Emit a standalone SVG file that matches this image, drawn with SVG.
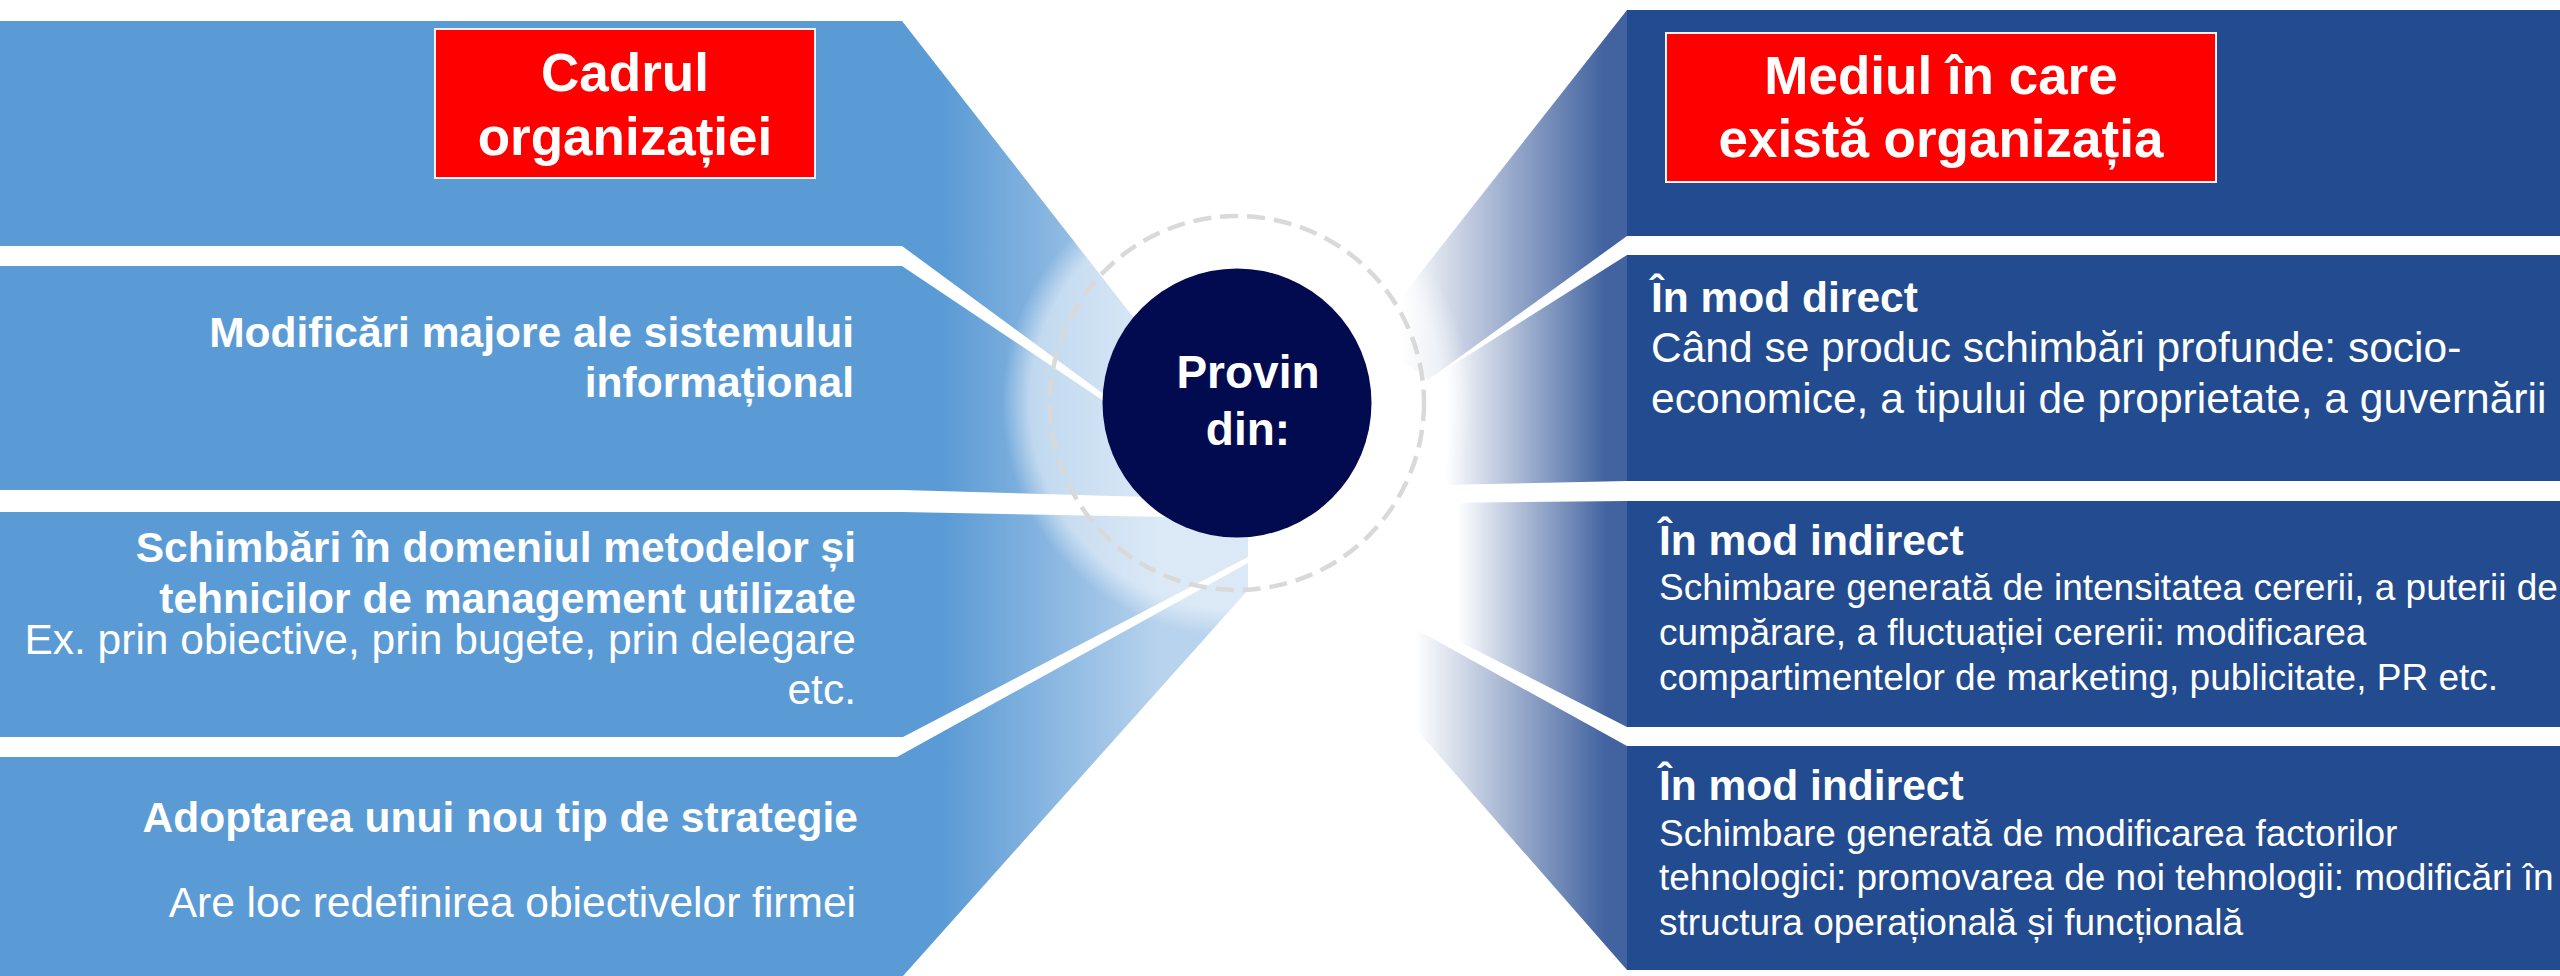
<svg xmlns="http://www.w3.org/2000/svg" width="2560" height="976" viewBox="0 0 2560 976">
<defs>
<style>
.t{font-family:"Liberation Sans",Arial,sans-serif;fill:#fff}
.b{font-weight:bold}
.s43{font-size:42.5px}
.s37{font-size:37px}
.end{text-anchor:end}
.ttl{font-family:"Liberation Sans",Arial,sans-serif;fill:#fff;font-size:53px;font-weight:bold;text-anchor:middle}
.rb{fill:#234B8F}
.red{fill:#FF0000;stroke:#F2F2F2;stroke-width:2}
</style>
<linearGradient id="gl" gradientUnits="userSpaceOnUse" x1="945" y1="0" x2="1160" y2="0">
<stop offset="0" stop-color="#5B9BD5"/><stop offset="1" stop-color="#B8D3ED"/>
</linearGradient>
<linearGradient id="gr1" gradientUnits="userSpaceOnUse" x1="1627" y1="0" x2="1400" y2="0">
<stop offset="0.1" stop-color="#4263A0"/><stop offset="1" stop-color="#4263A0" stop-opacity="0"/>
</linearGradient>
<linearGradient id="gr2" gradientUnits="userSpaceOnUse" x1="1627" y1="0" x2="1445" y2="0">
<stop offset="0.12" stop-color="#4263A0"/><stop offset="1" stop-color="#4263A0" stop-opacity="0"/>
</linearGradient>
<linearGradient id="gr3" gradientUnits="userSpaceOnUse" x1="1627" y1="0" x2="1458" y2="0">
<stop offset="0.12" stop-color="#4263A0"/><stop offset="1" stop-color="#4263A0" stop-opacity="0"/>
</linearGradient>
<linearGradient id="gr4" gradientUnits="userSpaceOnUse" x1="1627" y1="0" x2="1415" y2="0">
<stop offset="0.1" stop-color="#4263A0"/><stop offset="1" stop-color="#4263A0" stop-opacity="0"/>
</linearGradient>
<radialGradient id="halo" gradientUnits="userSpaceOnUse" cx="1237" cy="403" r="235">
<stop offset="0" stop-color="#fff" stop-opacity="0.5"/><stop offset="0.88" stop-color="#fff" stop-opacity="0.5"/><stop offset="1" stop-color="#fff" stop-opacity="0"/>
</radialGradient>
</defs>
<rect width="2560" height="976" fill="#fff"/>

<g id="connectors">
<polygon fill="url(#gr1)" points="1627,10 1370,337 1428,380 1627,236"/>
<polygon fill="url(#gr2)" points="1627,255 1424,383 1380,430 1390,486 1627,481"/>
<polygon fill="url(#gr3)" points="1627,501 1430,503 1415,619 1627,727"/>
<polygon fill="url(#gr4)" points="1627,746 1410,626 1395,705 1627,970"/>
</g>

<g id="left-1">
<polygon fill="url(#gl)" points="0,21 902,21 1180,377 1237,403 1150,428 902,246 0,246"/>
<rect class="red" x="435" y="29" width="380" height="149"/>
<text class="ttl" x="625" y="91">Cadrul</text>
<text class="ttl" x="625" y="155">organizației</text>
</g>

<g id="left-2">
<polygon fill="url(#gl)" points="0,266 902,266 1150,432 1200,450 1150,497 902,490 0,490"/>
<text class="t b s43 end" x="854" y="347">Modificări majore ale sistemului</text>
<text class="t b s43 end" x="854" y="397">informațional</text>
</g>

<g id="left-3">
<polygon fill="url(#gl)" points="0,512 902,512 1170,517 1200,480 1248,480 1248,557 903,737 0,737"/>
<text class="t b s43 end" x="856" y="562">Schimbări în domeniul metodelor și</text>
<text class="t b s43 end" x="856" y="613">tehnicilor de management utilizate</text>
<text class="t s43 end" x="856" y="654">Ex. prin obiective, prin bugete, prin delegare</text>
<text class="t s43 end" x="856" y="704">etc.</text>
</g>

<g id="left-4">
<polygon fill="url(#gl)" points="0,757 897,757 1248,563 1248,590 903,976 0,976"/>
<text class="t b s43 end" x="858" y="832">Adoptarea unui nou tip de strategie</text>
<text class="t s43 end" x="856" y="917">Are loc redefinirea obiectivelor firmei</text>
</g>

<g id="right-1">
<rect class="rb" x="1627" y="10" width="933" height="226"/>
<rect class="red" x="1666" y="33" width="550" height="149"/>
<text class="ttl" x="1941" y="94">Mediul în care</text>
<text class="ttl" x="1941" y="157">există organizația</text>
</g>

<g id="right-2">
<rect class="rb" x="1627" y="255" width="933" height="226"/>
<text class="t b s43" x="1651" y="312">În mod direct</text>
<text class="t s43" x="1651" y="362">Când se produc schimbări profunde: socio-</text>
<text class="t s43" x="1651" y="413">economice, a tipului de proprietate, a guvernării</text>
</g>

<g id="right-3">
<rect class="rb" x="1627" y="501" width="933" height="226"/>
<text class="t b s43" x="1659" y="555">În mod indirect</text>
<text class="t s37" x="1659" y="600">Schimbare generată de intensitatea cererii, a puterii de</text>
<text class="t s37" x="1659" y="645">cumpărare, a fluctuației cererii: modificarea</text>
<text class="t s37" x="1659" y="690">compartimentelor de marketing, publicitate, PR etc.</text>
</g>

<g id="right-4">
<rect class="rb" x="1627" y="746" width="933" height="224"/>
<text class="t b s43" x="1659" y="800">În mod indirect</text>
<text class="t s37" x="1659" y="846">Schimbare generată de modificarea factorilor</text>
<text class="t s37" x="1659" y="890">tehnologici: promovarea de noi tehnologii: modificări în</text>
<text class="t s37" x="1659" y="935">structura operațională și funcțională</text>
</g>

<g id="center">
<circle cx="1237" cy="403" r="235" fill="url(#halo)"/>
<circle cx="1237" cy="403" r="187" fill="none" stroke="#D9D9D9" stroke-width="4.5" stroke-dasharray="18 9"/>
<circle cx="1237" cy="403" r="134.5" fill="#020B4F"/>
<text class="t b" style="font-size:46px;text-anchor:middle" x="1248" y="388">Provin</text>
<text class="t b" style="font-size:46px;text-anchor:middle" x="1248" y="445">din:</text>
</g>
</svg>
